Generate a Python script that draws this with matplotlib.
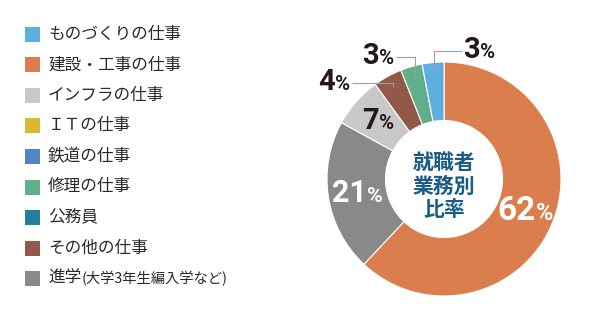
import numpy as np
import matplotlib.pyplot as plt
from matplotlib.patches import Rectangle
from matplotlib.offsetbox import TextArea, HPacker, AnnotationBbox

plt.rcParams['font.family'] = ['Noto Sans CJK JP', 'DejaVu Sans']

# legend (all categories, in legend order)
legend_labels = ['ものづくりの仕事', '建設・工事の仕事', 'インフラの仕事', 'ＩＴの仕事',
                 '鉄道の仕事', '修理の仕事', '公務員', 'その他の仕事', '進学']
legend_colors = ['#5DAFE0', '#D97E4C', '#C8C8C8', '#DBB833',
                 '#4F86C6', '#5FAF8A', '#21809C', '#925948', '#898989']
note_text = '(大学3年生編入学など)'

# donut slices, clockwise from 12 o'clock
slice_labels = ['建設・工事の仕事', '進学', 'インフラの仕事', 'その他の仕事', '修理の仕事', 'ものづくりの仕事']
slice_values = [62, 21, 7, 4, 3, 3]
slice_colors = [legend_colors[legend_labels.index(s)] for s in slice_labels]

center_title = '就職者\n業務別\n比率'

W, H = 591, 312
fig = plt.figure(figsize=(W / 100, H / 100), dpi=100)
ax = fig.add_axes((0, 0, 1, 1))

cx, cy, R = 444, H - 179, 117
wedges, _ = ax.pie(slice_values, colors=slice_colors, startangle=90, counterclock=False,
                   center=(cx, cy), radius=R,
                   wedgeprops=dict(width=R * 0.5, edgecolor='white', linewidth=0.8))
ax.set_xlim(0, W)
ax.set_ylim(0, H)
ax.set_aspect('equal')
ax.axis('off')

num_font = ['Liberation Sans Narrow', 'Roboto', 'DejaVu Sans']


def pct_label(xy, value, size, color, weight, box_align):
    num = TextArea(str(value), textprops=dict(fontsize=size, color=color, fontweight=weight,
                                              family=num_font))
    pct = TextArea('%', textprops=dict(fontsize=size * 0.7, color=color, fontweight=weight,
                                       family=num_font))
    pack = HPacker(children=[num, pct], align='baseline', pad=0, sep=0)
    ab = AnnotationBbox(pack, xy, xycoords='data', frameon=False, box_alignment=box_align, pad=0)
    ax.add_artist(ab)


def mid_angle(w):
    return np.deg2rad((w.theta1 + w.theta2) / 2)


# labels inside the ring
inside = {0: (24, 'white', 'bold'), 1: (22, 'white', 'bold'), 2: (21, '#231815', 'bold')}
for i, (size, color, weight) in inside.items():
    a = mid_angle(wedges[i])
    r = R * 0.75
    pct_label((cx + r * np.cos(a), cy + r * np.sin(a)), slice_values[i], size, color, weight, (0.5, 0.5))

# labels outside with leader lines: (slice, line y in px from top, end x, side)
outside = [(3, 83, 352, 'left'), (4, 57, 396, 'left'), (5, 51, 462, 'right')]
for i, ly, ex, side in outside:
    a = mid_angle(wedges[i])
    r = R * 0.9
    axp, ayp = cx + r * np.cos(a), cy + r * np.sin(a)
    ax.plot([axp, axp, ex], [ayp, H - ly, H - ly], color='#A0A0A0', lw=0.8, solid_capstyle='butt')
    if side == 'left':
        pct_label((ex - 2, H - ly), slice_values[i], 21, '#231815', 'bold', (1, 0.45))
    else:
        pct_label((ex + 1, H - ly), slice_values[i], 21, '#231815', 'bold', (0, 0.45))

ax.text(cx, cy - 7, center_title, ha='center', va='center', fontsize=15, fontweight='bold',
        color='#1B5C86', linespacing=1.15)

# legend
for i, (lab, col) in enumerate(zip(legend_labels, legend_colors)):
    yc = H - (34 + 30.6 * i)
    ax.add_patch(Rectangle((25, yc - 7.5), 15, 15, facecolor=col, edgecolor='none'))
    ax.text(48, yc, lab, ha='left', va='center', fontsize=12, color='#2a2a2a')
    if lab == '進学':
        ax.text(82, yc, note_text, ha='left', va='center', fontsize=10.3, color='#2a2a2a')

fig.savefig('out.png', dpi=100)
